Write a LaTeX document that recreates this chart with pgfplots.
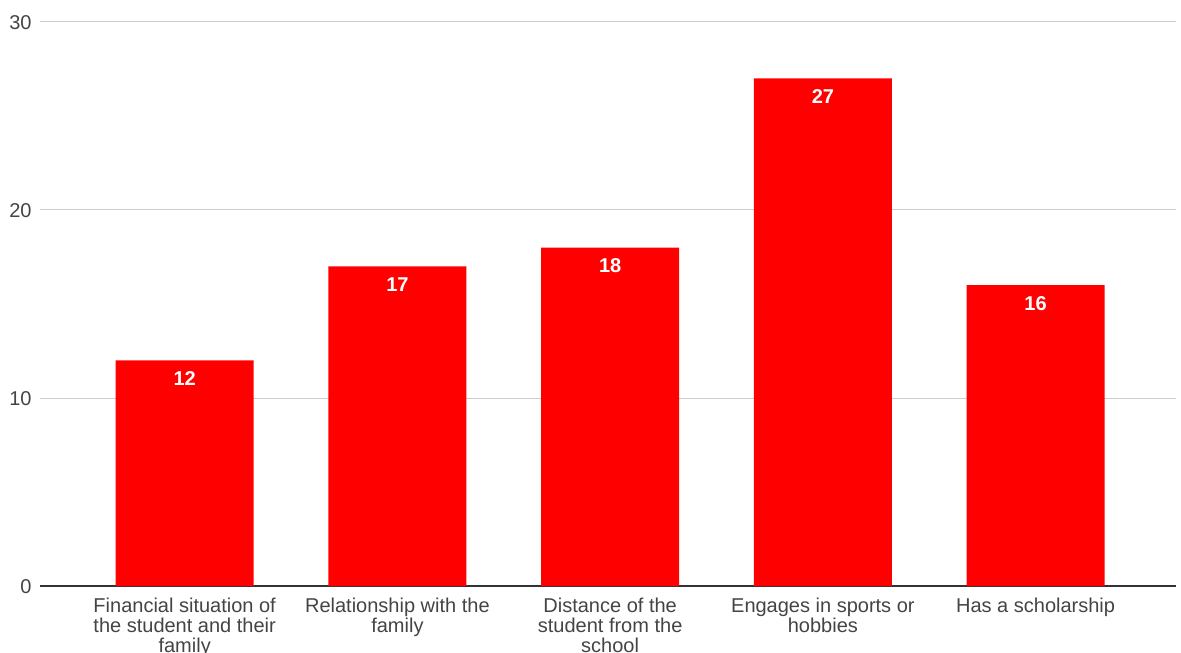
\documentclass[border=0pt]{standalone}
\usepackage{pgfplots}
\pgfplotsset{compat=1.18}
\usepackage{fontspec}
\setmainfont{Liberation Sans}
\definecolor{barred}{HTML}{FF0000}
\definecolor{gridc}{HTML}{CCCCCC}
\definecolor{txt}{HTML}{444444}
\definecolor{axc}{HTML}{333333}
\begin{document}
\begin{tikzpicture}
\useasboundingbox (0,0) rectangle (590.5pt,326pt);
\clip (0,0) rectangle (590.5pt,326pt);
\begin{axis}[
  at={(20pt,33pt)}, anchor=south west,
  scale only axis, width=568pt, height=282pt,
  ymin=0, ymax=30, ytick={10,20,30},
  extra y ticks={0},
  extra y tick style={major grid style={draw=axc, line width=1pt}},
  xmin=-0.68, xmax=4.66,
  xtick={0,1,2,3,4},
  xticklabels={Financial situation of\\the student and their\\family,
               Relationship with the\\family,
               Distance of the\\student from the\\school,
               Engages in sports or\\hobbies,
               Has a scholarship},
  axis line style={draw=none},
  major tick length=0pt,
  ymajorgrids,
  major grid style={draw=gridc, line width=0.5pt},
  tick label style={font=\fontsize{10}{10}\selectfont, text=txt},
  xticklabel style={align=center, anchor=north, inner sep=0pt, yshift=-6pt},
  yticklabel style={anchor=east, inner sep=0pt, xshift=-4pt, yshift=-0.5pt},
  /pgf/number format/assume math mode=true,
]
\addplot[ybar, bar width=69pt, fill=barred, draw=none,
  nodes near coords,
  every node near coord/.append style={font=\bfseries\fontsize{10}{10}\selectfont, text=white, anchor=center, yshift=-9pt}]
  coordinates {(0,12) (1,17) (2,18) (3,27) (4,16)};
\end{axis}
\end{tikzpicture}
\end{document}
